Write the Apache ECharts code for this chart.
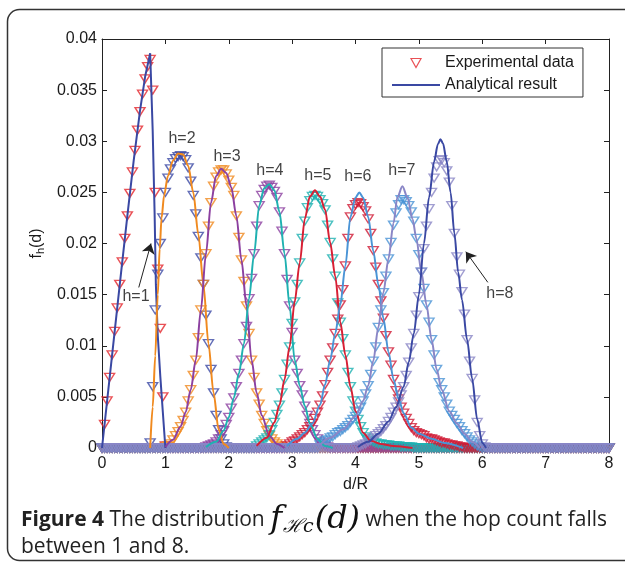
<!DOCTYPE html>
<html>
<head>
<meta charset="utf-8">
<script src="https://cdn.jsdelivr.net/npm/echarts@6/dist/echarts.min.js"></script>
<style>
html,body{margin:0;padding:0;background:#fff;}
#c{width:625px;height:562px;}
</style>
</head>
<body>
<div id="c"></div>
<script>
// shared sample grid of d/R (step 0.04)
const xGrid = [
0,0.04,0.08,0.12,0.16,0.2,0.24,0.28,0.32,0.36,0.4,0.44,0.48,0.52,0.56,0.6,0.64,0.68,0.72,0.76,0.8,0.84,0.88,0.92,0.96,
1,1.04,1.08,1.12,1.16,1.2,1.24,1.28,1.32,1.36,1.4,1.44,1.48,1.52,1.56,1.6,1.64,1.68,1.72,1.76,1.8,1.84,1.88,1.92,1.96,
2,2.04,2.08,2.12,2.16,2.2,2.24,2.28,2.32,2.36,2.4,2.44,2.48,2.52,2.56,2.6,2.64,2.68,2.72,2.76,2.8,2.84,2.88,2.92,2.96,
3,3.04,3.08,3.12,3.16,3.2,3.24,3.28,3.32,3.36,3.4,3.44,3.48,3.52,3.56,3.6,3.64,3.68,3.72,3.76,3.8,3.84,3.88,3.92,3.96,
4,4.04,4.08,4.12,4.16,4.2,4.24,4.28,4.32,4.36,4.4,4.44,4.48,4.52,4.56,4.6,4.64,4.68,4.72,4.76,4.8,4.84,4.88,4.92,4.96,
5,5.04,5.08,5.12,5.16,5.2,5.24,5.28,5.32,5.36,5.4,5.44,5.48,5.52,5.56,5.6,5.64,5.68,5.72,5.76,5.8,5.84,5.88,5.92,5.96,
6,6.04,6.08,6.12,6.16,6.2,6.24,6.28,6.32,6.36,6.4,6.44,6.48,6.52,6.56,6.6,6.64,6.68,6.72,6.76,6.8,6.84,6.88,6.92,6.96,
7,7.04,7.08,7.12,7.16,7.2,7.24,7.28,7.32,7.36,7.4,7.44,7.48,7.52,7.56,7.6,7.64,7.68,7.72,7.76,7.8,7.84,7.88,7.92,7.96,
8];

// experimental data (one row per unit of d/R)
const expH1 = [
0,0.0023,0.0046,0.0069,0.0091,0.0114,0.0137,0.0160,0.0182,0.0205,0.0227,0.0249,0.0270,0.0291,0.0311,0.0329,0.0346,0.0361,0.0373,0.0380,0.0350,0.0250,0.0175,0.0117,0.0050,
0.0002,0,0,0,0,0,0,0,0,0,0,0,0,0,0,0,0,0,0,0,0,0,0,0,0,
0,0,0,0,0,0,0,0,0,0,0,0,0,0,0,0,0,0,0,0,0,0,0,0,0,
0,0,0,0,0,0,0,0,0,0,0,0,0,0,0,0,0,0,0,0,0,0,0,0,0,
0,0,0,0,0,0,0,0,0,0,0,0,0,0,0,0,0,0,0,0,0,0,0,0,0,
0,0,0,0,0,0,0,0,0,0,0,0,0,0,0,0,0,0,0,0,0,0,0,0,0,
0,0,0,0,0,0,0,0,0,0,0,0,0,0,0,0,0,0,0,0,0,0,0,0,0,
0,0,0,0,0,0,0,0,0,0,0,0,0,0,0,0,0,0,0,0,0,0,0,0,0,
0];
const expH2 = [
0,0,0,0,0,0,0,0,0,0,0,0,0,0,0,0,0,0,0,0.0005,0.0060,0.0135,0.0170,0.0200,0.0225,
0.0250,0.0264,0.0273,0.0279,0.0283,0.0285,0.0286,0.0285,0.0282,0.0274,0.0261,0.0247,0.0229,0.0207,0.0186,0.0160,0.0130,0.0102,0.0077,0.0054,0.0032,0.0018,0.0009,0.0004,0.0001,
0,0,0,0,0,0,0,0,0,0,0,0,0,0,0,0,0,0,0,0,0,0,0,0,0,
0,0,0,0,0,0,0,0,0,0,0,0,0,0,0,0,0,0,0,0,0,0,0,0,0,
0,0,0,0,0,0,0,0,0,0,0,0,0,0,0,0,0,0,0,0,0,0,0,0,0,
0,0,0,0,0,0,0,0,0,0,0,0,0,0,0,0,0,0,0,0,0,0,0,0,0,
0,0,0,0,0,0,0,0,0,0,0,0,0,0,0,0,0,0,0,0,0,0,0,0,0,
0,0,0,0,0,0,0,0,0,0,0,0,0,0,0,0,0,0,0,0,0,0,0,0,0,
0];
const expH3 = [
0,0,0,0,0,0,0,0,0,0,0,0,0,0,0,0,0,0,0,0,0,0,0,0,0,
0.0001,0.0002,0.0004,0.0008,0.0012,0.0016,0.0021,0.0027,0.0035,0.0046,0.0057,0.0071,0.0086,0.0108,0.0135,0.0160,0.0190,0.0217,0.0240,0.0256,0.0265,0.0270,0.0272,0.0272,0.0268,
0.0262,0.0255,0.0247,0.0227,0.0206,0.0184,0.0163,0.0139,0.0112,0.0086,0.0069,0.0054,0.0043,0.0032,0.0024,0.0017,0.0012,0.0009,0.0006,0.0004,0.0002,0.0001,0,0,0,
0,0,0,0,0,0,0,0,0,0,0,0,0,0,0,0,0,0,0,0,0,0,0,0,0,
0,0,0,0,0,0,0,0,0,0,0,0,0,0,0,0,0,0,0,0,0,0,0,0,0,
0,0,0,0,0,0,0,0,0,0,0,0,0,0,0,0,0,0,0,0,0,0,0,0,0,
0,0,0,0,0,0,0,0,0,0,0,0,0,0,0,0,0,0,0,0,0,0,0,0,0,
0,0,0,0,0,0,0,0,0,0,0,0,0,0,0,0,0,0,0,0,0,0,0,0,0,
0];
const expH4 = [
0,0,0,0,0,0,0,0,0,0,0,0,0,0,0,0,0,0,0,0,0,0,0,0,0,
0,0,0,0,0,0,0,0,0,0,0,0,0,0,0,0,0.0001,0.0002,0.0003,0.0004,0.0006,0.0009,0.0013,0.0017,0.0023,
0.0030,0.0039,0.0049,0.0060,0.0073,0.0086,0.0102,0.0119,0.0146,0.0166,0.0190,0.0217,0.0237,0.0247,0.0253,0.0256,0.0257,0.0255,0.0251,0.0245,0.0231,0.0212,0.0190,0.0165,0.0139,
0.0113,0.0086,0.0073,0.0061,0.0052,0.0041,0.0032,0.0024,0.0018,0.0013,0.0009,0.0006,0.0004,0.0002,0.0001,0,0,0,0,0,0,0,0,0,0,
0,0,0,0,0,0,0,0,0,0,0,0,0,0,0,0,0,0,0,0,0,0,0,0,0,
0,0,0,0,0,0,0,0,0,0,0,0,0,0,0,0,0,0,0,0,0,0,0,0,0,
0,0,0,0,0,0,0,0,0,0,0,0,0,0,0,0,0,0,0,0,0,0,0,0,0,
0,0,0,0,0,0,0,0,0,0,0,0,0,0,0,0,0,0,0,0,0,0,0,0,0,
0];
const expH5 = [
0,0,0,0,0,0,0,0,0,0,0,0,0,0,0,0,0,0,0,0,0,0,0,0,0,
0,0,0,0,0,0,0,0,0,0,0,0,0,0,0,0,0,0,0,0,0,0,0,0,0,
0,0,0,0,0,0,0,0,0,0,0,0.0002,0.0004,0.0006,0.0008,0.0010,0.0013,0.0018,0.0025,0.0033,0.0042,0.0054,0.0067,0.0082,0.0099,
0.0122,0.0143,0.0160,0.0181,0.0205,0.0222,0.0235,0.0242,0.0246,0.0247,0.0246,0.0243,0.0239,0.0233,0.0218,0.0201,0.0185,0.0168,0.0142,0.0123,0.0107,0.0091,0.0074,0.0060,0.0046,
0.0036,0.0028,0.0021,0.0015,0.0011,0.0009,0.0007,0.0006,0.0005,0.0004,0.0004,0.0003,0.0003,0.0003,0.0002,0.0002,0.0002,0.0002,0.0001,0.0001,0.0001,0.0001,0.0001,0,0,
0,0,0,0,0,0,0,0,0,0,0,0,0,0,0,0,0,0,0,0,0,0,0,0,0,
0,0,0,0,0,0,0,0,0,0,0,0,0,0,0,0,0,0,0,0,0,0,0,0,0,
0,0,0,0,0,0,0,0,0,0,0,0,0,0,0,0,0,0,0,0,0,0,0,0,0,
0];
const expH6 = [
0,0,0,0,0,0,0,0,0,0,0,0,0,0,0,0,0,0,0,0,0,0,0,0,0,
0,0,0,0,0,0,0,0,0,0,0,0,0,0,0,0,0,0,0,0,0,0,0,0,0,
0,0,0,0,0,0,0,0,0,0,0,0,0,0,0,0,0,0,0,0,0,0,0,0.0002,0.0004,
0.0006,0.0007,0.0009,0.0011,0.0013,0.0015,0.0018,0.0021,0.0024,0.0029,0.0035,0.0042,0.0051,0.0062,0.0074,0.0086,0.0098,0.0112,0.0126,0.0140,0.0155,0.0178,0.0205,0.0226,0.0234,
0.0238,0.0240,0.0239,0.0236,0.0232,0.0224,0.0210,0.0193,0.0177,0.0160,0.0144,0.0127,0.0110,0.0094,0.0081,0.0067,0.0056,0.0048,0.0040,0.0034,0.0029,0.0024,0.0020,0.0017,0.0015,
0.0014,0.0013,0.0012,0.0010,0.0009,0.0009,0.0008,0.0007,0.0006,0.0005,0.0005,0.0004,0.0003,0.0003,0.0002,0.0002,0.0001,0.0001,0,0,0,0,0,0,0,
0,0,0,0,0,0,0,0,0,0,0,0,0,0,0,0,0,0,0,0,0,0,0,0,0,
0,0,0,0,0,0,0,0,0,0,0,0,0,0,0,0,0,0,0,0,0,0,0,0,0,
0];
const expH7 = [
0,0,0,0,0,0,0,0,0,0,0,0,0,0,0,0,0,0,0,0,0,0,0,0,0,
0,0,0,0,0,0,0,0,0,0,0,0,0,0,0,0,0,0,0,0,0,0,0,0,0,
0,0,0,0,0,0,0,0,0,0,0,0,0,0,0,0,0,0,0,0,0,0,0,0,0,
0,0,0,0,0,0,0,0,0,0,0,0.0003,0.0005,0.0007,0.0008,0.0010,0.0011,0.0013,0.0015,0.0016,0.0018,0.0020,0.0022,0.0025,0.0028,
0.0031,0.0035,0.0040,0.0046,0.0053,0.0061,0.0072,0.0085,0.0099,0.0118,0.0135,0.0152,0.0168,0.0185,0.0201,0.0218,0.0230,0.0238,0.0243,0.0243,0.0241,0.0237,0.0231,0.0222,0.0205,
0.0189,0.0172,0.0156,0.0140,0.0123,0.0106,0.0091,0.0077,0.0064,0.0057,0.0050,0.0043,0.0036,0.0032,0.0028,0.0024,0.0021,0.0017,0.0014,0.0011,0.0008,0.0006,0.0004,0.0002,0.0001,
0,0,0,0,0,0,0,0,0,0,0,0,0,0,0,0,0,0,0,0,0,0,0,0,0,
0,0,0,0,0,0,0,0,0,0,0,0,0,0,0,0,0,0,0,0,0,0,0,0,0,
0];
const expH8 = [
0,0,0,0,0,0,0,0,0,0,0,0,0,0,0,0,0,0,0,0,0,0,0,0,0,
0,0,0,0,0,0,0,0,0,0,0,0,0,0,0,0,0,0,0,0,0,0,0,0,0,
0,0,0,0,0,0,0,0,0,0,0,0,0,0,0,0,0,0,0,0,0,0,0,0,0,
0,0,0,0,0,0,0,0,0,0,0,0,0,0,0,0,0,0,0,0,0,0,0,0,0,
0,0.0001,0.0002,0.0003,0.0004,0.0006,0.0008,0.0010,0.0012,0.0014,0.0016,0.0019,0.0022,0.0026,0.0030,0.0035,0.0040,0.0045,0.0052,0.0060,0.0071,0.0084,0.0098,0.0112,0.0130,
0.0148,0.0172,0.0195,0.0217,0.0234,0.0250,0.0264,0.0275,0.0281,0.0282,0.0279,0.0271,0.0260,0.0237,0.0210,0.0187,0.0170,0.0153,0.0131,0.0106,0.0085,0.0068,0.0047,0.0025,0.0012,
0.0004,0.0001,0,0,0,0,0,0,0,0,0,0,0,0,0,0,0,0,0,0,0,0,0,0,0,
0,0,0,0,0,0,0,0,0,0,0,0,0,0,0,0,0,0,0,0,0,0,0,0,0,
0];

// analytical results
const anaX1 = [0,0.1,0.2,0.3,0.4,0.5,0.6,0.68,0.76,0.8,0.83,0.85,0.88,0.92,0.96,1.0];
const anaY1 = [0,0.0057,0.0114,0.0171,0.0227,0.0281,0.0330,0.0363,0.0386,0.0310,0.0230,0.0160,0.0110,0.0070,0.0035,0];
const anaX2 = [0.76,0.80,0.84,0.88,0.91,0.94,0.98,1.04,1.12,1.20,1.28,1.36,1.44,1.52,1.60,1.68,1.76,1.84,1.92,2.00];
const anaY2 = [0,0.0040,0.0090,0.0150,0.0195,0.0225,0.0247,0.0266,0.0281,0.0288,0.0287,0.0276,0.0250,0.0209,0.0160,0.0102,0.0054,0.0018,0.0004,0];
const anaX3 = [1.00,1.12,1.24,1.32,1.40,1.48,1.56,1.64,1.72,1.80,1.88,1.96,2.04,2.12,2.20,2.28,2.36,2.44,2.52,2.64,2.76,2.88];
const anaY3 = [0.0001,0.0008,0.0021,0.0035,0.0057,0.0086,0.0135,0.0190,0.0240,0.0266,0.0273,0.0269,0.0255,0.0227,0.0184,0.0139,0.0086,0.0054,0.0032,0.0012,0.0004,0];
const anaX4 = [1.64,1.80,1.92,2.00,2.08,2.16,2.24,2.32,2.40,2.48,2.56,2.64,2.72,2.80,2.88,2.96,3.04,3.12,3.20,3.28,3.40,3.52,3.64];
const anaY4 = [0.0001,0.0006,0.0017,0.0030,0.0049,0.0073,0.0102,0.0146,0.0190,0.0237,0.0254,0.0258,0.0252,0.0231,0.0190,0.0139,0.0086,0.0061,0.0041,0.0024,0.0009,0.0002,0];
const anaX5 = [2.44,2.60,2.72,2.80,2.88,2.96,3.04,3.12,3.20,3.28,3.36,3.44,3.52,3.60,3.68,3.76,3.84,3.92,4.00,4.12,4.24,4.40,4.60,4.90];
const anaY5 = [0.0002,0.0010,0.0025,0.0042,0.0067,0.0099,0.0143,0.0181,0.0224,0.0246,0.0252,0.0246,0.0233,0.0201,0.0168,0.0123,0.0091,0.0060,0.0036,0.0015,0.0007,0.0004,0.0002,0];
const anaX6 = [2.92,3.08,3.20,3.32,3.44,3.52,3.60,3.68,3.76,3.84,3.92,4.00,4.06,4.12,4.20,4.28,4.36,4.44,4.52,4.60,4.68,4.76,4.88,5.00,5.20,5.40,5.70];
const anaY6 = [0.0002,0.0009,0.0015,0.0024,0.0042,0.0062,0.0086,0.0112,0.0140,0.0178,0.0226,0.0245,0.0250,0.0245,0.0226,0.0193,0.0160,0.0127,0.0094,0.0067,0.0048,0.0034,0.0020,0.0014,0.0009,0.0005,0];
const anaX7 = [3.44,3.60,3.80,4.00,4.12,4.20,4.28,4.36,4.44,4.52,4.60,4.66,4.74,4.82,4.90,4.96,5.04,5.12,5.20,5.28,5.36,5.48,5.60,5.72,5.84,5.96];
const anaY7 = [0.0003,0.0010,0.0018,0.0031,0.0046,0.0061,0.0085,0.0118,0.0152,0.0185,0.0220,0.0245,0.0256,0.0245,0.0224,0.0205,0.0172,0.0140,0.0106,0.0077,0.0057,0.0036,0.0024,0.0014,0.0006,0];
const anaX8 = [4.04,4.20,4.36,4.52,4.64,4.76,4.84,4.92,5.00,5.08,5.16,5.24,5.30,5.34,5.38,5.44,5.50,5.56,5.62,5.68,5.76,5.84,5.92,6.00,6.06];
const anaY8 = [0.0001,0.0006,0.0014,0.0026,0.0040,0.0060,0.0084,0.0112,0.0150,0.0200,0.0245,0.0280,0.0297,0.0302,0.0298,0.0280,0.0250,0.0210,0.0172,0.0145,0.0106,0.0068,0.0028,0.0005,0];

// curve labels and arrows (data coordinates)
const curveLabels = ['h=1','h=2','h=3','h=4','h=5','h=6','h=7','h=8'];
const curveLabelAt = [[0.536,0.0148],[1.262,0.0303],[1.972,0.0285],[2.65,0.0271],[3.407,0.0266],[4.038,0.0265],[4.732,0.0271],[6.278,0.0151]];
const arrowFrom = [[0.580,0.0157],[6.088,0.0162]];
const arrowTo = [[0.773,0.0200],[5.741,0.0192]];

const expAll = [expH1,expH2,expH3,expH4,expH5,expH6,expH7,expH8];
const anaXAll = [anaX1,anaX2,anaX3,anaX4,anaX5,anaX6,anaX7,anaX8];
const anaYAll = [anaY1,anaY2,anaY3,anaY4,anaY5,anaY6,anaY7,anaY8];

const markerColors = ['#e4262c','#3c4aa5','#f08a1f','#8c40a0','#1fb1b1','#d01c36','#4a94d6','#8a86c6'];
const lineColors = ['#3a48a3','#f08a1f','#8c40a0','#1fb1b1','#d81f34','#4a94d6','#8a86c6','#3a48a3'];
const FONT = "'Liberation Sans', Arial, sans-serif";
const tri = 'path://M0,0L10,0L5,9Z';

const chart = echarts.init(document.getElementById('c'), null, {renderer:'canvas'});

const series = [];
expAll.forEach((arr, k) => {
  series.push({
    name: k === 0 ? 'Experimental data' : 'exp' + (k + 1),
    type: 'scatter',
    data: xGrid.map((x, i) => [x, arr[i]]),
    symbol: tri,
    symbolSize: [10, 8],
    itemStyle: {color: 'rgba(255,255,255,0)', borderColor: markerColors[k], borderWidth: 1.4},
    silent: true, clip: false, z: 2
  });
});
anaXAll.forEach((xs, k) => {
  series.push({
    name: k === 0 ? 'Analytical result' : 'ana' + (k + 1),
    type: 'line',
    data: xs.map((x, i) => [x, anaYAll[k][i]]),
    symbol: 'none', showSymbol: false,
    smooth: k === 0 ? false : 0.3,
    smoothMonotone: 'x',
    lineStyle: {color: lineColors[k], width: 2},
    itemStyle: {color: lineColors[k]},
    silent: true, clip: false, z: 3
  });
});
series.push({
  name: 'labels',
  type: 'scatter',
  data: curveLabelAt.map((p, i) => ({value: p, name: curveLabels[i]})),
  symbolSize: 1,
  itemStyle: {color: 'rgba(0,0,0,0)'},
  label: {show: true, position: 'inside', formatter: '{b}', color: '#111', fontSize: 16, fontFamily: FONT},
  silent: true, z: 10,
  markLine: {
    silent: true, animation: false,
    symbol: ['none', 'arrow'], symbolSize: 10,
    lineStyle: {color: '#222', width: 1, type: 'solid'},
    label: {show: false},
    data: arrowFrom.map((p, i) => [{coord: p}, {coord: arrowTo[i]}])
  }
});

const axisCommon = {
  type: 'value', min: 0,
  axisLine: {show: true, onZero: false, lineStyle: {color: '#222', width: 1}},
  axisTick: {show: true, inside: true, length: 5, lineStyle: {color: '#222'}},
  splitLine: {show: false}
};

chart.setOption({
  animation: false,
  backgroundColor: '#fff',
  grid: {left: 102, right: 16, top: 39, bottom: 114},
  xAxis: [
    Object.assign({}, axisCommon, {
      position: 'bottom', max: 8, interval: 1,
      axisLabel: {color: '#1a1a1a', fontSize: 16, fontFamily: FONT, margin: 8},
      name: 'd/R', nameLocation: 'middle', nameGap: 29,
      nameTextStyle: {color: '#1a1a1a', fontSize: 16, fontFamily: FONT}
    }),
    Object.assign({}, axisCommon, {position: 'top', max: 8, interval: 1, axisLabel: {show: false}})
  ],
  yAxis: [
    Object.assign({}, axisCommon, {
      position: 'left', max: 0.04, interval: 0.005,
      axisLabel: {color: '#1a1a1a', fontSize: 16, fontFamily: FONT, margin: 5},
      name: 'f{s|h}(d)', nameLocation: 'middle', nameGap: 52,
      nameTextStyle: {color: '#1a1a1a', fontSize: 16, fontFamily: FONT,
        rich: {s: {fontSize: 11, fontFamily: FONT, color: '#1a1a1a', padding: [8, 0, 0, 0]}}}
    }),
    Object.assign({}, axisCommon, {position: 'right', max: 0.04, interval: 0.005, axisLabel: {show: false}})
  ],
  legend: {
    left: 382, top: 48, orient: 'vertical',
    padding: [7, 9, 4, 10], itemGap: 6, itemWidth: 48, itemHeight: 9,
    borderColor: '#333', borderWidth: 1, backgroundColor: '#fff', borderRadius: 0,
    selectedMode: false,
    textStyle: {color: '#1a1a1a', fontSize: 16, fontFamily: FONT},
    data: [
      {name: 'Experimental data', icon: tri, itemStyle: {color: 'rgba(255,255,255,0)', borderColor: '#e4262c', borderWidth: 1.2}},
      {name: 'Analytical result', icon: 'path://M0,0L48,0L48,1.8L0,1.8Z', itemStyle: {color: '#3a48a3', borderWidth: 0}}
    ]
  },
  graphic: [
    {type: 'rect', shape: {x: 7.5, y: 9.5, width: 700, height: 551, r: 12},
     style: {fill: 'none', stroke: '#333', lineWidth: 1.5}, silent: true, z: -1},
    {type: 'text', x: 21, y: 520, silent: true,
     style: {
       text: '{b|Figure 4}{r| The distribution }{m|f}{s|ℋc}{m|(}{mi|d}{m|)}{r| when the hop count falls}',
       verticalAlign: 'middle',
       rich: {
         b: {fontFamily: "'Open Sans', sans-serif", fontWeight: 'bold', fontSize: 21, fill: '#222'},
         r: {fontFamily: "'Open Sans', sans-serif", fontSize: 21, fill: '#222'},
         m: {fontFamily: "'DejaVu Serif', serif", fontStyle: 'italic', fontSize: 32, fill: '#111'},
         mi: {fontFamily: "'DejaVu Serif', serif", fontStyle: 'italic', fontSize: 32, fill: '#111'},
         s: {fontFamily: "'DejaVu Serif', serif", fontStyle: 'italic', fontSize: 19, fill: '#111', padding: [15, 1, 0, 1]}
       }
     }},
    {type: 'text', x: 21, y: 547, silent: true,
     style: {text: 'between 1 and 8.', verticalAlign: 'middle',
       fontFamily: "'Open Sans', sans-serif", fontSize: 21, fill: '#222'}}
  ],
  series: series
});
</script>
</body>
</html>
